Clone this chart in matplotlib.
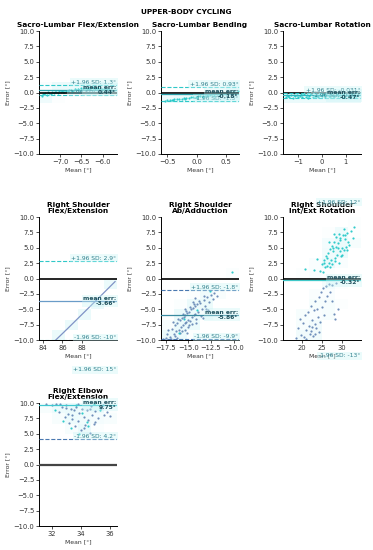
import matplotlib
matplotlib.use("Agg")
import matplotlib.pyplot as plt
import numpy as np
from matplotlib.colors import LinearSegmentedColormap

# ---- data ----
titles = ["Sacro-Lumbar Flex/Extension", "Sacro-Lumbar Bending", "Sacro-Lumbar Rotation",
          "Right Shoulder\nFlex/Extension", "Right Shoulder\nAb/Adduction",
          "Right Shoulder\nInt/Ext Rotation", "Right Elbow\nFlex/Extension"]

mean_err = [0.44, -0.18, -0.47, -3.66, -5.86, -0.32, 9.75]
upper_sd = [1.3, 0.93, -0.031, 2.9, -1.8, 12.0, 15.0]
lower_sd = [-0.42, -1.3, -0.91, -10.0, -9.9, -13.0, 4.2]
upper_txt = ["1.3", "0.93", "-0.031", "2.9", "-1.8", "12", "15"]
lower_txt = ["-0.42", "-1.3", "-0.91", "-10", "-9.9", "-13", "4.2"]

xlims = [(-7.49, -5.67), (-0.61, 0.72), (-1.62, 1.63), (83.55, 91.7),
         (-18.0, -9.4), (15.2, 34.9), (31.13, 36.48)]
xticks = [[-7.0, -6.5, -6.0], [-0.5, 0.0, 0.5], [-1, 0, 1], [84, 86, 88],
          [-17.5, -15.0, -12.5, -10.0], [20, 25, 30], [32, 34, 36]]

x1 = [-7.42, -7.38, -7.35, -7.30, -7.28, -7.22, -7.18, -7.15, -7.10, -7.05, -7.02, -6.98, -6.95,
      -6.90, -6.86, -6.82, -6.78, -6.75, -6.70, -6.66, -6.62, -6.58, -6.55, -6.50, -6.46, -6.42,
      -6.38, -6.35, -6.30, -6.26, -6.22, -6.18, -6.14, -6.10, -6.06, -6.02, -5.98, -5.94, -5.90,
      -5.85, -5.80, -7.40, -7.25, -7.12, -6.92, -6.72, -6.52, -6.32, -6.12, -5.92]
y1 = [-0.55, -0.30, -0.10, -0.35, 0.05, -0.20, 0.10, -0.05, 0.15, 0.00, 0.20, 0.10, 0.25,
      0.15, 0.30, 0.20, 0.35, 0.45, 0.30, 0.50, 0.40, 0.60, 0.45, 0.70, 0.55, 0.80,
      0.60, 0.75, 0.65, 0.85, 0.70, 0.60, 0.75, 0.55, 0.65, 0.50, 0.60, 0.45, 0.55,
      0.50, 0.45, -0.20, 0.00, 0.05, 0.10, 0.25, 0.35, 0.50, 0.45, 0.40]

x2 = [-0.55, -0.50, -0.46, -0.42, -0.38, -0.34, -0.30, -0.26, -0.22, -0.18, -0.14, -0.10, -0.06,
      -0.02, 0.02, 0.06, 0.10, 0.14, 0.18, 0.22, 0.26, 0.30, 0.34, 0.38, 0.42, 0.46, 0.50, 0.54,
      0.58, 0.62, 0.66, 0.70, -0.40, -0.20, 0.00, 0.20, 0.40, 0.60, 0.10, 0.30, 0.50, 0.65]
y2 = [-1.30, -1.25, -1.20, -1.18, -1.12, -1.10, -1.02, -1.00, -0.92, -0.90, -0.82, -0.80, -0.72,
      -0.70, -0.62, -0.60, -0.52, -0.50, -0.42, -0.40, -0.32, -0.30, -0.22, -0.20, -0.12, -0.10,
      -0.02, 0.00, 0.05, 0.10, 0.15, 0.20, -1.25, -1.05, -0.85, -0.60, -0.35, -0.05, -0.75,
      -0.55, -0.30, -0.15]

x3 = [-1.50, -1.42, -1.35, -1.28, -1.20, -1.12, -1.05, -0.98, -0.90, -0.82, -0.75, -0.68, -0.60,
      -0.52, -0.45, -0.38, -0.30, -0.22, -0.15, -0.08, 0.00, 0.08, 0.15, 0.22, 0.30, 0.38, 0.45,
      0.52, 0.60, 0.68, 0.75, 0.82, 0.90, 0.98, 1.05, 1.12, 1.20, 1.28, 1.35, 1.42, 1.50,
      -1.46, -1.16, -0.86, -0.56, -0.26, 0.04, 0.34, 0.64, 0.94, 1.24]
y3 = [-0.80, -0.55, -0.70, -0.40, -0.85, -0.60, -0.35, -0.75, -0.50, -0.65, -0.30, -0.80, -0.45,
      -0.60, -0.25, -0.70, -0.50, -0.35, -0.65, -0.40, -0.55, -0.30, -0.75, -0.45, -0.60, -0.20,
      -0.50, -0.70, -0.35, -0.55, -0.40, -0.65, -0.30, -0.50, -0.45, -0.60, -0.35, -0.55, -0.40,
      -0.50, -0.45, -0.35, -0.45, -0.30, -0.85, -0.55, -0.20, -0.80, -0.25, -0.70, -0.30]

# shoulder flex/ext: points collapse onto a line
x4 = [84.5, 85.3, 86.5, 88.0, 89.5, 91.5]
y4 = [-11.2, -10.0, -8.2, -5.9, -3.6, -0.5]

x5 = [-17.8, -17.5, -17.3, -17.0, -16.8, -16.6, -16.5, -16.3, -16.2, -16.0, -15.9, -15.8, -15.7,
      -15.6, -15.5, -15.4, -15.3, -15.2, -15.1, -15.0, -14.9, -14.8, -14.7, -14.6, -14.5, -14.4,
      -14.3, -14.2, -14.0, -13.9, -13.7, -13.5, -13.3, -13.1, -12.9, -12.7, -12.5, -12.3, -12.1,
      -11.8, -16.4, -16.1, -15.9, -15.6, -15.4, -15.2, -15.0, -14.8, -14.6, -14.4, -14.1, -13.8,
      -13.6, -13.2, -12.8, -16.7, -16.2, -15.7, -15.3, -14.9, -14.5, -14.1, -13.4, -17.2, -16.9,
      -15.1, -14.2, -13.0]
y5 = [-9.9, -9.7, -9.0, -9.5, -8.2, -9.0, -7.6, -8.6, -7.2, -8.3, -6.8, -7.9, -6.5,
      -7.6, -6.2, -7.3, -5.9, -7.1, -5.6, -6.8, -5.4, -6.9, -5.0, -6.3, -4.8, -6.0,
      -4.5, -5.8, -4.2, -5.5, -3.9, -5.0, -3.5, -4.4, -3.0, -3.8, -2.6, -3.3, -2.3,
      -2.8, -9.3, -6.6, -8.8, -5.8, -8.4, -5.3, -7.9, -4.6, -7.4, -4.1, -6.6, -3.6,
      -6.1, -2.9, -5.2, -7.0, -9.6, -8.5, -4.9, -7.6, -3.8, -7.2, -6.4, -8.4, -9.8,
      -8.9, -3.2, -4.9]
x5c = [-12.6, -10.2, -15.5, -14.0, -16.0]
y5c = [-2.1, 1.0, -6.6, -5.2, -8.9]

x6c = [24.5, 25.0, 25.3, 25.6, 25.9, 26.1, 26.4, 26.6, 26.9, 27.1, 27.3, 27.5, 27.7, 27.9, 28.1,
       28.3, 28.5, 28.7, 28.9, 29.1, 29.3, 29.5, 29.7, 29.9, 30.1, 30.3, 30.5, 30.8, 31.1, 31.4,
       31.7, 32.0, 32.4, 32.8, 33.2, 25.5, 26.3, 27.0, 27.8, 28.4, 29.0, 29.6, 30.2, 30.9, 31.5,
       23.0, 26.8, 28.2, 29.4, 30.6, 23.7, 20.8]
y6c = [1.2, 2.3, 1.0, 3.0, 1.8, 3.6, 2.0, 4.2, 2.6, 4.8, 3.0, 5.3, 2.4, 4.5, 6.0,
       3.4, 5.2, 6.8, 3.8, 5.7, 7.2, 4.4, 6.2, 3.6, 5.0, 7.0, 4.6, 6.4, 5.2, 7.4,
       6.0, 5.5, 7.8, 6.6, 8.4, 2.6, 3.3, 1.9, 5.0, 2.8, 4.9, 6.6, 3.9, 7.1, 4.7,
       1.4, 6.0, 7.3, 2.5, 8.0, 3.1, 1.5]
x6b = [18.5, 19.0, 19.4, 19.8, 20.2, 20.5, 20.8, 21.1, 21.4, 21.7, 22.0, 22.2, 22.4, 22.6, 22.8,
       23.0, 23.2, 23.4, 23.6, 23.8, 24.0, 24.2, 24.5, 24.8, 25.1, 25.4, 25.7, 26.0, 26.4, 26.8,
       27.2, 27.6, 28.0, 28.5, 29.0, 21.0, 22.5, 23.3, 24.3, 25.5, 27.5, 28.3]
y6b = [-9.7, -8.0, -6.6, -9.2, -7.2, -9.5, -6.0, -8.4, -5.4, -7.8, -9.0, -4.5, -8.6, -6.8, -9.3,
       -5.2, -7.4, -3.6, -8.0, -4.9, -6.3, -3.0, -7.0, -2.2, -4.6, -1.6, -3.7, -1.2, -2.8, -0.9,
       -2.2, -1.0, -5.8, -0.8, -5.0, -9.8, -7.9, -9.0, -8.7, -6.0, -3.6, -6.6]

x7 = [31.6, 32.0, 32.3, 32.5, 32.7, 32.9, 33.0, 33.1, 33.2, 33.3, 33.4, 33.5, 33.6, 33.7, 33.8,
      33.9, 34.0, 34.1, 34.2, 34.3, 34.4, 34.5, 34.6, 34.7, 34.8, 34.9, 35.0, 35.2, 35.4, 35.6,
      35.8, 36.0, 32.6, 33.0, 33.4, 33.8, 34.2, 34.6, 35.0, 35.5]
y7 = [9.8, 9.6, 9.9, 8.6, 9.3, 7.8, 9.6, 8.2, 6.8, 9.0, 7.4, 8.8, 6.2, 9.4, 7.0,
      8.4, 5.6, 9.1, 7.7, 6.4, 8.9, 7.2, 5.2, 9.5, 8.0, 6.6, 8.7, 7.5, 9.2, 8.1,
      8.5, 7.9, 9.9, 9.2, 8.0, 9.8, 6.0, 9.0, 6.9, 9.6]
x7c = [32.8, 33.3, 33.7, 34.1, 34.5, 34.9, 35.3, 32.2, 33.9, 34.4]
y7c = [7.1, 5.9, 9.7, 8.3, 6.3, 9.9, 8.9, 8.9, 5.0, 6.9]

cyan_pts = [(x1, y1), (x2, y2), (x3, y3), ([], []), (x5c, y5c), (x6c, y6c), (x7c, y7c)]
blue_pts = [([], []), ([], []), ([], []), ([], []), (x5, y5), (x6b, y6b), (x7, y7)]

# ---- styles ----
CYAN = "#1cc6c6"
BLUE = "#4f74aa"
mean_col = ["#2aa0aa", "#2aa0aa", "#2ab8c0", "#6a9cc8", "#3a8aa0", "#40c8c8", "#40c8d0"]
sd_col = ["#30c8c8", "#30c8c8", "#30c8c8", "#30c8c8", "#4a78b0", "#30c8c8", "#4a78b0"]
TXT = "#2f7f8c"
shade = LinearSegmentedColormap.from_list("shade", ["#ffffff", "#cdf4f7"])

fig = plt.figure(figsize=(3.73, 5.5), dpi=100)
fig.suptitle("UPPER-BODY CYCLING", fontsize=5.3, fontweight="bold", y=0.983)

lefts = [0.1046, 0.4316, 0.7587]
bottoms = [0.72, 0.3818, 0.0436]
w, h = 0.209, 0.2236

for i in range(7):
    r, c = divmod(i, 3)
    ax = fig.add_axes([lefts[c], bottoms[r], w, h])
    ax.set_xlim(*xlims[i])
    ax.set_ylim(-10, 10)

    # light density background
    allx = list(cyan_pts[i][0]) + list(blue_pts[i][0]) + (x4 if i == 3 else [])
    ally = list(cyan_pts[i][1]) + list(blue_pts[i][1]) + (y4 if i == 3 else [])
    xe = np.linspace(xlims[i][0], xlims[i][1], 7)
    ye = np.linspace(-10, 10, 13)
    H, _, _ = np.histogram2d(allx, ally, bins=[xe, ye])
    H = np.ma.masked_equal(H, 0)
    ax.pcolormesh(xe, ye, H.T, cmap=shade, vmin=0, vmax=max(H.max(), 1) * 0.8,
                  alpha=0.4, zorder=0, edgecolors="none")

    if i == 3:
        ax.plot(x4, y4, color="#7f93c6", lw=0.9, zorder=2)
    bx, by = blue_pts[i]
    cx, cy = cyan_pts[i]
    if len(bx):
        ax.scatter(bx, by, s=2.5, color=BLUE, alpha=0.8, lw=0, zorder=2)
    if len(cx):
        ax.scatter(cx, cy, s=2.5, color=CYAN, alpha=0.9, lw=0, zorder=2)

    ax.axhline(0, color="#444444" if i == 6 else "black", lw=1.6 if i == 6 else 1.2, zorder=3)
    ax.axhline(mean_err[i], color=mean_col[i], lw=0.9, zorder=3)
    ax.axhline(upper_sd[i], color=sd_col[i], lw=0.8, ls="--", zorder=3)
    ax.axhline(lower_sd[i], color=sd_col[i], lw=0.8, ls="--", zorder=3)

    tr = ax.get_yaxis_transform()
    box = dict(facecolor="#c8f4f6", alpha=0.35, edgecolor="none", pad=1)
    ax.text(0.99, upper_sd[i], "+1.96 SD: %s°" % upper_txt[i], transform=tr, ha="right",
            va="bottom", fontsize=4.3, color=TXT, clip_on=False, bbox=box, zorder=4)
    ax.text(0.99, lower_sd[i], "-1.96 SD: %s°" % lower_txt[i], transform=tr, ha="right",
            va="bottom", fontsize=4.3, color=TXT, clip_on=False, bbox=box, zorder=4)
    ax.text(0.99, mean_err[i], "mean err:\n%.2f°" % mean_err[i], transform=tr, ha="right",
            va="center", fontsize=4.3, color="#1d4f5c", fontweight="bold", clip_on=False,
            bbox=box, zorder=4, linespacing=1.0)

    ax.set_title(titles[i], fontsize=5.3, fontweight="bold", pad=3, linespacing=1.0)
    ax.set_xticks(xticks[i])
    ax.set_yticks(np.arange(-10, 10.1, 2.5))
    ax.tick_params(labelsize=4.9, length=2, width=0.6, pad=1.5, colors="#333333")
    ax.set_xlabel("Mean [°]", fontsize=4.4, labelpad=1.5, color="#333333")
    ax.set_ylabel("Error [°]", fontsize=4.4, labelpad=2, color="#333333")
    for s in ["top", "right"]:
        ax.spines[s].set_visible(False)
    for s in ["left", "bottom"]:
        ax.spines[s].set_linewidth(0.7)

fig.savefig("out.png", dpi=100)
